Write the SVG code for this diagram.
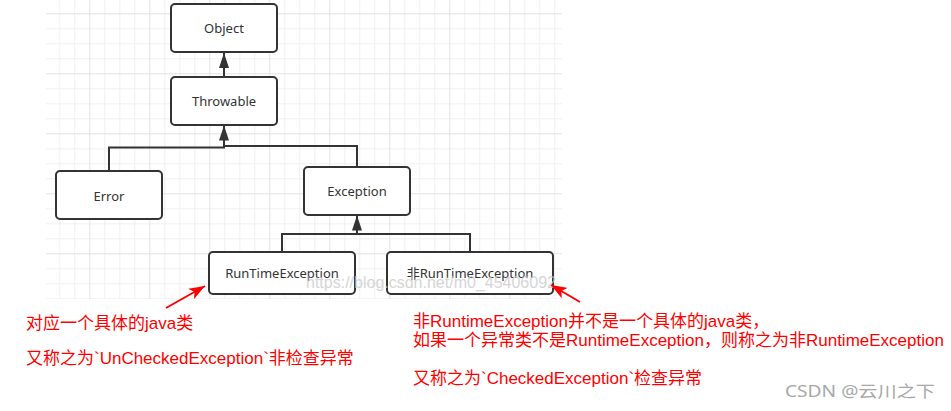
<svg xmlns="http://www.w3.org/2000/svg" width="951" height="411" viewBox="0 0 951 411">
<style>
.node rect{fill:#fff;stroke:#333;stroke-width:2}
.node text{font-family:"Noto Sans","Noto Sans CJK SC",sans-serif;font-size:13px;fill:#333;text-anchor:middle}
.conn{fill:none;stroke:#333;stroke-width:2}
.red{fill:none;stroke:#ff0000;stroke-width:2}
.note{font-family:"Liberation Sans","Noto Sans CJK SC",sans-serif;font-size:17px;fill:#ff0000}
</style>
<defs>
<pattern id="grid" patternUnits="userSpaceOnUse" x="29.3" y="13.3" width="60" height="60">
<path d="M15.5,0V60M30.5,0V60M45.5,0V60M0,15.5H60M0,30.5H60M0,45.5H60" stroke="#f0f0f0" stroke-width="1" fill="none"/>
<path d="M0.5,0V60M0,0.5H60" stroke="#e2e2e2" stroke-width="1" fill="none"/>
</pattern>
<marker id="tri" markerUnits="userSpaceOnUse" viewBox="0 0 15 10" refX="15" refY="5" markerWidth="15" markerHeight="10" orient="auto">
<path d="M0,0L15,5L0,10Z" fill="#333"/>
</marker>
<marker id="redtri" markerUnits="userSpaceOnUse" viewBox="0 0 16 12" refX="16" refY="6" markerWidth="16" markerHeight="12" orient="auto">
<path d="M0,0L16,6L0,12L4,6Z" fill="#ff0000"/>
</marker>
</defs>
<rect x="0" y="0" width="951" height="411" fill="#fff"/>
<rect x="46" y="0" width="516" height="299" fill="url(#grid)"/>
<g id="connectors">
<path class="conn" d="M224,77V53" marker-end="url(#tri)"/>
<path class="conn" d="M109,171V147.5H224V125.5" marker-end="url(#tri)"/>
<path class="conn" d="M357,167V146H224"/>
<path class="conn" d="M282,252V234H357V215.5" marker-end="url(#tri)"/>
<path class="conn" d="M470,252V234H357"/>
</g>
<g id="node-object" class="node"><rect x="171" y="4" width="106" height="48" rx="4"/><text x="224" y="33">Object</text></g>
<g id="node-throwable" class="node"><rect x="171" y="77" width="106" height="48" rx="4"/><text x="224" y="106">Throwable</text></g>
<g id="node-error" class="node"><rect x="56" y="171" width="106" height="48" rx="4"/><text x="109" y="200.5">Error</text></g>
<g id="node-exception" class="node"><rect x="304" y="167" width="106" height="48" rx="4"/><text x="357" y="196">Exception</text></g>
<g id="node-runtime" class="node"><rect x="209" y="252" width="146" height="42" rx="4"/><text x="282" y="278">RunTimeException</text></g>
<g id="node-nonruntime" class="node"><rect x="387" y="252" width="166" height="42" rx="4"/><text x="470" y="278">非RunTimeException</text></g>
<text x="306" y="288" font-family="Liberation Sans, sans-serif" font-size="16" fill="#c8c8c8" opacity="0.75">https://blog.csdn.net/m0_45406092</text>
<g id="annotations">
<path class="red" d="M166,308L205,286" marker-end="url(#redtri)"/>
<path class="red" d="M580,302L551,285" marker-end="url(#redtri)"/>
<text class="note" x="26" y="329">对应一个具体的java类</text>
<text class="note" x="26" y="364">又称之为`UnCheckedException`非检查异常</text>
<text class="note" x="413" y="327">非RuntimeException并不是一个具体的java类，</text>
<text class="note" x="413" y="345.5">如果一个异常类不是RuntimeException，则称之为非RuntimeException</text>
<text class="note" x="413" y="384">又称之为`CheckedException`检查异常</text>
</g>
<text x="785" y="397" font-family="Noto Sans, Noto Sans CJK SC, sans-serif" font-size="16" fill="#a8a8a8" textLength="150" lengthAdjust="spacingAndGlyphs">CSDN @云川之下</text>
</svg>
